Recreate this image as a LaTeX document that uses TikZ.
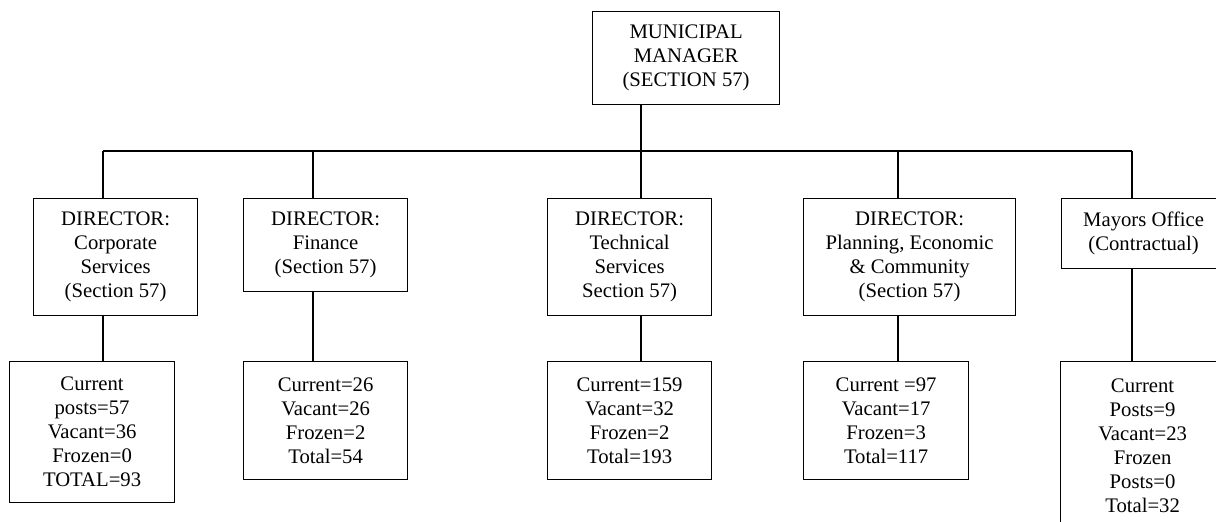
\documentclass[tikz,border=0pt]{standalone}
\usepackage{fontspec}
\setmainfont{Liberation Serif}
\usepackage{tikz}
\usetikzlibrary{positioning}

\tikzset{
  orgbox/.style={draw, line width=1.2pt, align=center, inner sep=0pt,
    anchor=north west, font=\fontsize{20.7}{24}\selectfont},
  wire/.style={line width=1.2pt}
}

\begin{document}
\begin{tikzpicture}[x=1pt, y=-1pt]

\clip (0,0) rectangle (1216,522);

\node[orgbox, minimum width=187pt, minimum height=93pt] (MMx) at (592,11) {MUNICIPAL\\MANAGER\\(SECTION 57)};

\coordinate (J1x) at (103,151);
\coordinate (J2x) at (313,151);
\coordinate (J3x) at (641,151);
\coordinate (J4x) at (898,151);
\coordinate (J5x) at (1132,151);
\draw[wire] (MMx.south -| J3x) -- (J3x);
\draw[wire] (J1x) -- (J5x);

\node[orgbox, minimum width=164pt, minimum height=117pt] (MMD1x) at (33,198) {DIRECTOR:\\Corporate\\Services\\(Section 57)};
\node[orgbox, minimum width=165pt, minimum height=141pt] (MMD1Px) at (9,361) {Current\\posts=57\\Vacant=36\\Frozen=0\\TOTAL=93};
\draw[wire] (J1x) -- (J1x |- MMD1x.north);
\draw[wire] (J1x |- MMD1x.south) -- (J1x |- MMD1Px.north);

\node[orgbox, minimum width=164pt, minimum height=93pt] (MMD2x) at (243,198) {DIRECTOR:\\Finance\\(Section 57)};
\node[orgbox, minimum width=164pt, minimum height=118pt] (MMD2Px) at (243,361) {Current=26\\Vacant=26\\Frozen=2\\Total=54};
\draw[wire] (J2x) -- (J2x |- MMD2x.north);
\draw[wire] (J2x |- MMD2x.south) -- (J2x |- MMD2Px.north);

\node[orgbox, minimum width=164pt, minimum height=117pt] (MMD3x) at (547,198) {DIRECTOR:\\Technical\\Services\\Section 57)};
\node[orgbox, minimum width=164pt, minimum height=118pt] (MMD3Px) at (547,361) {Current=159\\Vacant=32\\Frozen=2\\Total=193};
\draw[wire] (J3x) -- (J3x |- MMD3x.north);
\draw[wire] (J3x |- MMD3x.south) -- (J3x |- MMD3Px.north);

\node[orgbox, minimum width=212pt, minimum height=117pt] (MMD4x) at (803,198) {DIRECTOR:\\Planning, Economic\\\& Community\\(Section 57)};
\node[orgbox, minimum width=165pt, minimum height=118pt] (MMD4Px) at (803,361) {Current =97\\Vacant=17\\Frozen=3\\Total=117};
\draw[wire] (J4x) -- (J4x |- MMD4x.north);
\draw[wire] (J4x |- MMD4x.south) -- (J4x |- MMD4Px.north);

\node[orgbox, minimum width=164pt, minimum height=70pt] (MMD5x) at (1061,198) {Mayors Office\\(Contractual)};
\node[orgbox, minimum width=164pt, minimum height=168pt] (MMD5Px) at (1060,361) {Current\\Posts=9\\Vacant=23\\Frozen\\Posts=0\\Total=32};
\draw[wire] (J5x) -- (J5x |- MMD5x.north);
\draw[wire] (J5x |- MMD5x.south) -- (J5x |- MMD5Px.north);

\end{tikzpicture}
\end{document}
